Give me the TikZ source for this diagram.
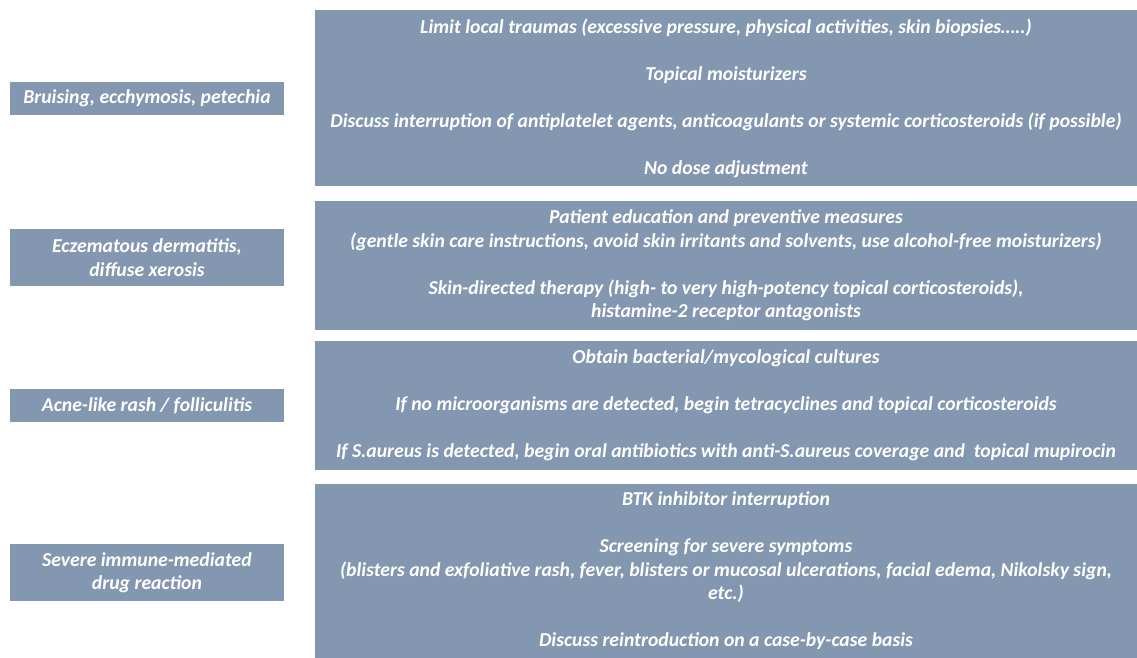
\documentclass[tikz,border=0pt]{standalone}
\usepackage{fontspec}
\setmainfont{Carlito}
\definecolor{slate}{HTML}{8497B0}
\begin{document}
\begin{tikzpicture}[x=1pt,y=-1pt,
  box/.style={fill=slate, text=white, inner sep=0pt, align=center,
    font=\fontsize{19.7}{23.5}\selectfont\bfseries\itshape},
  cond/.style={box, minimum width=274pt},
  action/.style={box, minimum width=822pt}]
\useasboundingbox (0,0) rectangle (1137,658);

% conditions (left column)
\node[cond, minimum height=33pt] (c1) at (147,98.5) {Bruising, ecchymosis, petechia};
\node[cond, minimum height=57pt] (c2) at (147,257.5) {Eczematous dermatitis,\\diffuse xerosis};
\node[cond, minimum height=33pt] (c3) at (147,405.5) {Acne-like rash / folliculitis};
\node[cond, minimum height=57pt] (c4) at (147,572.5) {Severe immune-mediated\\drug reaction};

% management (right column)
\node[action, minimum height=176pt] (a1) at (726,98) {Limit local traumas (excessive pressure, physical activities, skin biopsies…..)\\[23.5pt]
Topical moisturizers\\[23.5pt]
Discuss interruption of antiplatelet agents, anticoagulants or systemic corticosteroids (if possible)\\[23.5pt]
No dose adjustment};
\node[action, minimum height=129pt] (a2) at (726,265.5) {Patient education and preventive measures\\
(gentle skin care instructions, avoid skin irritants and solvents, use alcohol-free moisturizers)\\[23.5pt]
Skin-directed therapy (high- to very high-potency topical corticosteroids),\\
histamine-2 receptor antagonists};
\node[action, minimum height=129pt] (a3) at (726,405.5) {Obtain bacterial/mycological cultures\\[23.5pt]
If no microorganisms are detected, begin tetracyclines and topical corticosteroids\\[23.5pt]
If S.aureus is detected, begin oral antibiotics with anti-S.aureus coverage and\ \ topical mupirocin};
\node[action, minimum height=174pt] (a4) at (726,571) {BTK inhibitor interruption\\[23.5pt]
Screening for severe symptoms\\
(blisters and exfoliative rash, fever, blisters or mucosal ulcerations, facial edema, Nikolsky sign,\\
etc.)\\[23.5pt]
Discuss reintroduction on a case-by-case basis};
\end{tikzpicture}
\end{document}
